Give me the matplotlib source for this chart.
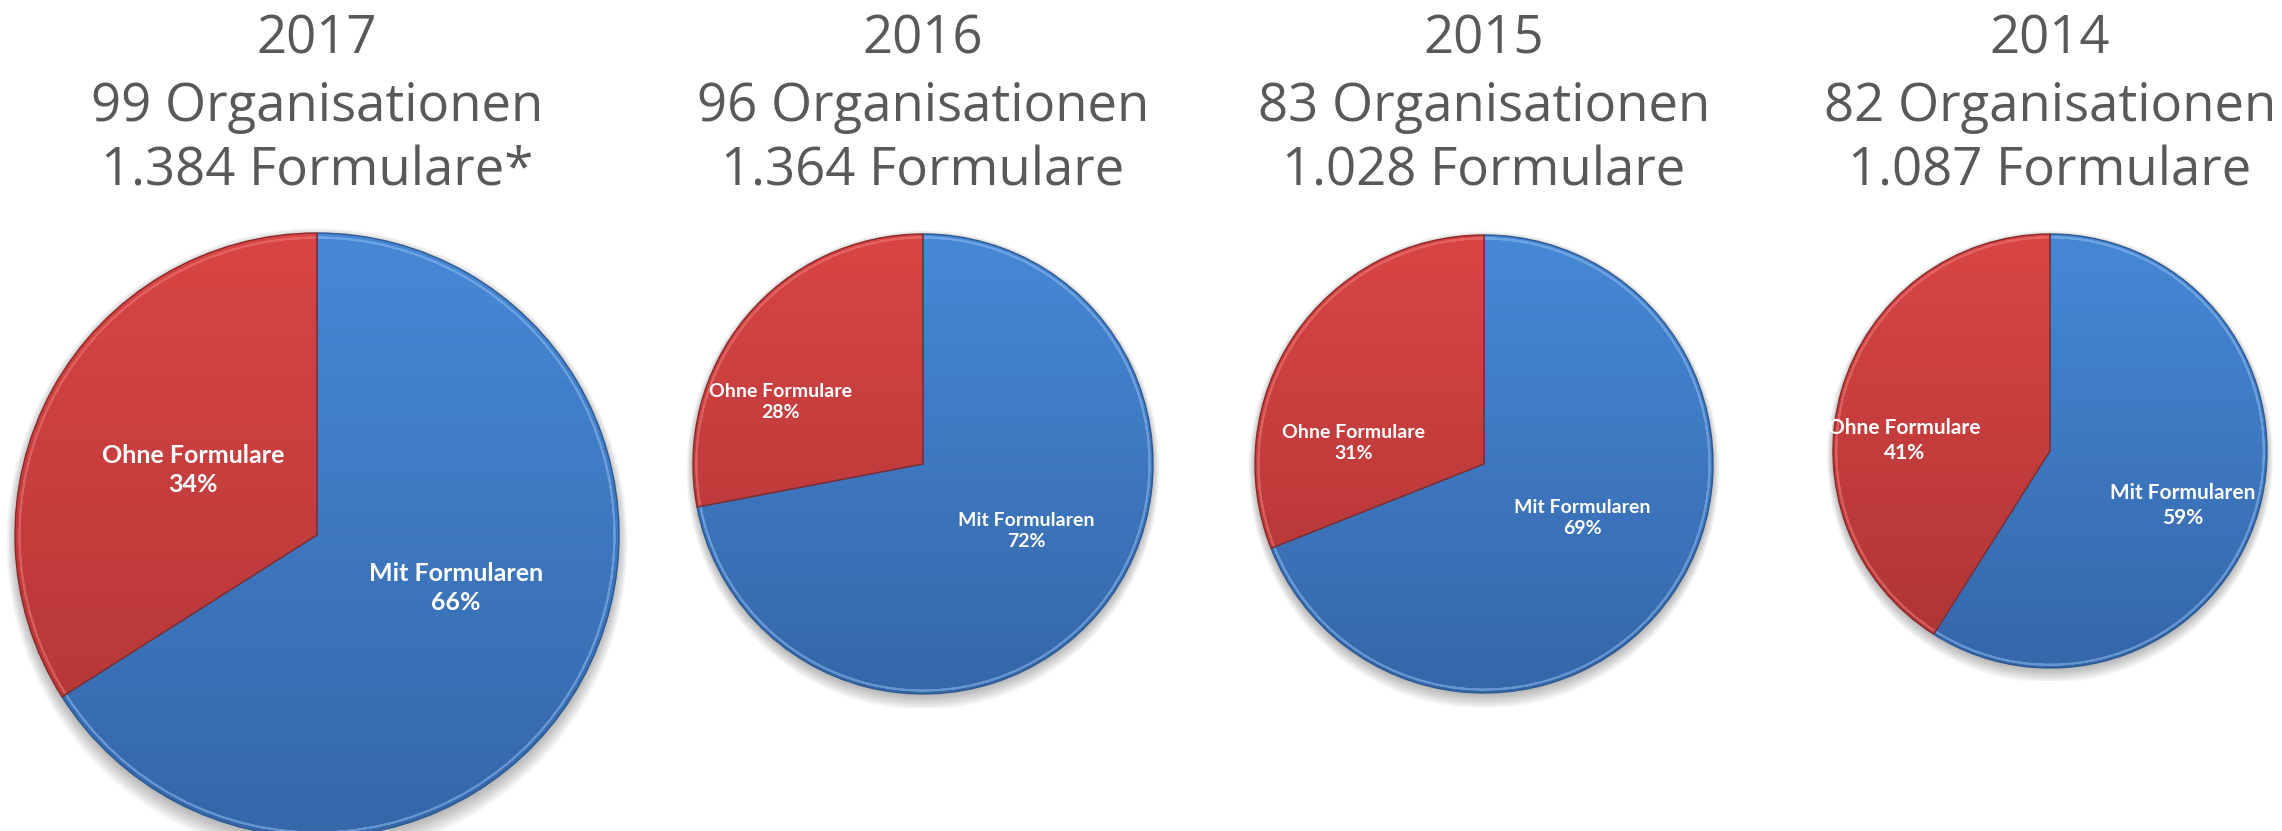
import numpy as np
import matplotlib
matplotlib.use("Agg")
import matplotlib.pyplot as plt
from matplotlib.colors import LinearSegmentedColormap
from matplotlib.patches import Wedge, Ellipse

# ---- data ----
years = ["2017", "2016", "2015", "2014"]
organisations = [99, 96, 83, 82]
forms = ["1.384", "1.364", "1.028", "1.087"]
forms_suffix = ["*", "", "", ""]
categories = ["Mit Formularen", "Ohne Formulare"]
mit_pct = [66, 72, 69, 59]
ohne_pct = [34, 28, 31, 41]

# ---- layout (pixels in a 2282x831 canvas) ----
W, H = 2282, 831
centers = [(317, 535), (923, 464), (1484, 464), (2050, 451)]
radii = [302, 230, 229, 217]
label_pos = [
    [(0.46, -0.175), (-0.41, 0.215)],
    [(0.45, -0.29), (-0.62, 0.27)],
    [(0.43, -0.235), (-0.57, 0.09)],
    [(0.61, -0.25), (-0.67, 0.05)],
]
label_size = [18, 14, 14, 15]
title_baselines = [54, 121, 186]

fig = plt.figure(figsize=(W / 100, H / 100), dpi=100)
fig.patch.set_facecolor("white")

blue_cmap = LinearSegmentedColormap.from_list("b", ["#3567a9", "#4788d6"])
red_cmap = LinearSegmentedColormap.from_list("r", ["#ad3434", "#d94545"])
grad = np.linspace(0, 1, 256).reshape(-1, 1)

for i in range(4):
    cx, cy = centers[i]
    r = radii[i]
    pad = 1.06
    ax = fig.add_axes([(cx - r * pad) / W, (H - (cy + r * pad)) / H,
                       2 * r * pad / W, 2 * r * pad / H])
    ax.set_facecolor("none")
    vals = [mit_pct[i], ohne_pct[i]]
    # soft shadow
    for k in range(8):
        ax.add_patch(Ellipse((0, -0.012 - 0.002 * k), 2 + 0.008 * k, 2 + 0.012 * k,
                             facecolor="#000000", edgecolor="none",
                             alpha=0.035, zorder=0))
    wedges, _ = ax.pie(vals, startangle=90, counterclock=False,
                       colors=["#3d78c4", "#c43c3c"], radius=1.0,
                       wedgeprops=dict(linewidth=0, zorder=1))
    for w, cm in zip(wedges, [blue_cmap, red_cmap]):
        im = ax.imshow(grad, extent=[-1, 1, -1, 1], origin="lower", cmap=cm,
                       aspect="auto", zorder=1.5)
        im.set_clip_path(w)
    # bevel highlights / outlines
    for w, ec, hl in zip(wedges, ["#2e5a90", "#8a2a2a"], ["#8dbbef", "#ee7a7a"]):
        ax.add_patch(Wedge(w.center, 0.985, w.theta1, w.theta2, width=0.0,
                           facecolor="none", edgecolor=hl, linewidth=1.4,
                           alpha=0.55, zorder=4))
        ax.add_patch(Wedge(w.center, w.r, w.theta1, w.theta2,
                           facecolor="none", edgecolor=ec, linewidth=1.0, zorder=5))
    ax.set_aspect("auto")
    ax.set_xlim(-pad, pad)
    ax.set_ylim(-pad, pad)
    ax.axis("off")
    for j, (lx, ly) in enumerate(label_pos[i]):
        pct = vals[j]
        ax.text(lx, ly, f"{categories[j]}\n{pct}%", ha="center", va="center",
                color="white", fontsize=label_size[i], fontweight="bold",
                family="Lato", linespacing=1.3, zorder=10)

    lines = [years[i], f"{organisations[i]} Organisationen",
             f"{forms[i]} Formulare{forms_suffix[i]}"]
    for line, yb in zip(lines, title_baselines):
        fig.text(cx / W, 1 - yb / H, line, ha="center", va="baseline",
                 fontsize=38, color="#595959", family="Open Sans")

fig.savefig("out.png", dpi=100, facecolor="white")
